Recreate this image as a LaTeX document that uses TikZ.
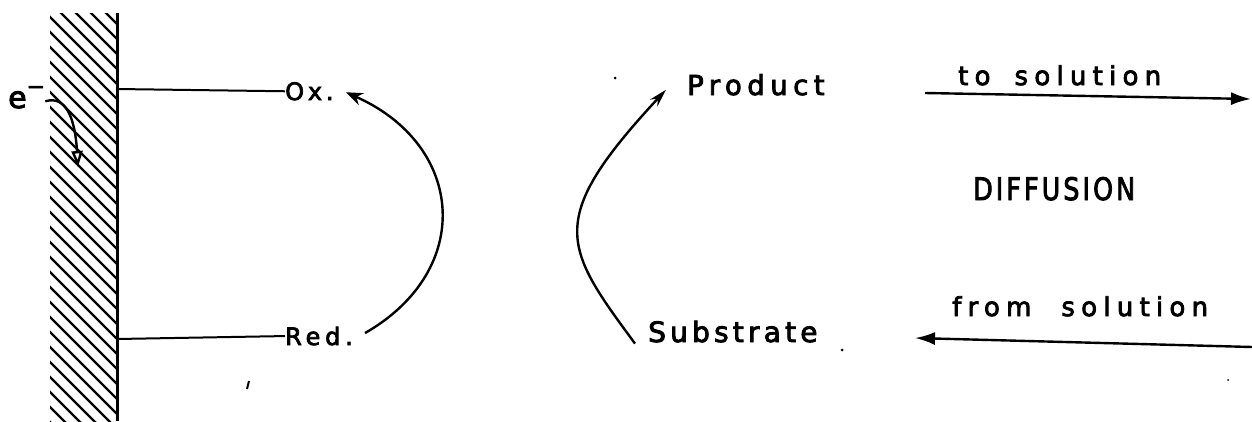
\documentclass[tikz,border=0pt]{standalone}
\usepackage{fontspec}
\setmainfont{DejaVu Sans}
\newfontfamily\lett{DejaVu Sans}[FakeBold=3]
\usetikzlibrary{arrows.meta}
\newcommand{\fsz}[1]{\fontsize{#1}{#1}\selectfont}
\begin{document}
\begin{tikzpicture}[x=1pt,y=-1pt,
  lbl/.style={inner sep=0pt, anchor=base west},
  hatchline/.style={line width=2.2pt},
  electrode/.style={line width=3pt},
  wire/.style={line width=2pt},
  conn/.style={line width=2.4pt},
  diff/.style={line width=2.4pt, -{Latex[length=20pt,width=13pt]}},
  speck/.style={fill=black}]
\useasboundingbox (0,0) rectangle (1252,421);
% hatched electrode
\begin{scope}
  \clip (50,13) rectangle (117,421);
  \foreach \k in {-6,...,29} \draw[hatchline] (48,{15*\k}) -- (125,{15*\k+77});
\end{scope}
\draw[electrode] (117,13) -- (117,421);
% labels
\node[lbl, font=\lett\fsz{30}] (e) at (8,108) {e\raisebox{14pt}{\fsz{22}−}};
\node[lbl, font=\lett\fsz{24}] (ox) at (285,100) {\addfontfeature{LetterSpace=16}Ox.};
\node[lbl, font=\lett\fsz{24}] (red) at (285,345) {\addfontfeature{LetterSpace=20}Red.};
\node[lbl, font=\lett\fsz{27.5}] (prod) at (687,95) {\addfontfeature{LetterSpace=20}Product};
\node[lbl, font=\lett\fsz{28}] (sub) at (648,342) {\addfontfeature{LetterSpace=15}Substrate};
\node[lbl, font=\lett\fsz{26}] (tosol) at (958,85) {\addfontfeature{LetterSpace=24}to\hspace{24pt}solution};
\node[lbl, font=\lett\fsz{31}] (diffu) at (973,200) {\scalebox{0.82}[1]{\addfontfeature{LetterSpace=12}DIFFUSION}};
\node[lbl, font=\lett\fsz{26}] (fromsol) at (952,316) {\addfontfeature{LetterSpace=24}from\hspace{30pt}solution};
% wires from electrode
\coordinate (eox) at (117,89);
\coordinate (ered) at (117,339);
\draw[wire] (eox) -- (ox.west);
\draw[wire] (ered) -- (red.west);
% electron transfer arrow
\coordinate (einj) at (78,167);
\draw[conn, -{Triangle[length=16pt,width=11pt,fill=white]}] ([yshift=-4pt]e.east) .. controls (66,95) and (75,118) .. (einj);
% Red -> Ox
\draw[conn, -{Stealth[length=17pt,width=13pt]}] ([xshift=12pt,yshift=3pt]red.east) .. controls (475,270) and (465,145) .. ([xshift=12pt,yshift=-1pt]ox.east);
% Substrate -> Product
\draw[conn, -{Stealth[length=18pt,width=10pt]}] ([xshift=-13pt,yshift=-12pt]sub.west) .. controls (563,246) and (545,220) .. ([xshift=-21pt,yshift=-5pt]prod.west);
% diffusion arrows
\coordinate (ts1) at (925,93);
\coordinate (ts2) at (1251,99);
\coordinate (fs1) at (1252,347);
\coordinate (fs2) at (915,338);
\draw[diff] (ts1) -- (ts2);
\draw[diff] (fs1) -- (fs2);
% specks of the scan
\fill[speck] (615,78) circle (1.5);
\fill[speck] (842,350) circle (1.5);
\fill[speck] (1228,380) circle (1);
\draw[line width=2pt] (249,381) -- (247,389);
\end{tikzpicture}
\end{document}
